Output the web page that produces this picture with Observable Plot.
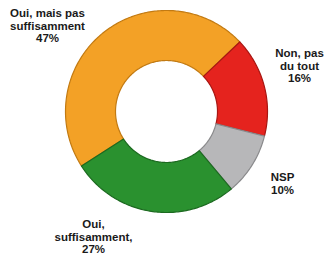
<!DOCTYPE html>
<html><head><meta charset="utf-8">
<script src="https://cdn.jsdelivr.net/npm/d3@7"></script>
<script src="https://cdn.jsdelivr.net/npm/@observablehq/plot@0.6"></script>
<style>body{margin:0;background:#fff}</style>
</head><body><div id="chart"></div>
<script>
const categories = ["Oui, mais pas suffisamment", "Non, pas du tout", "NSP", "Oui, suffisamment"];
const labels = ["Oui, mais pas\nsuffisamment\n47%", "Non, pas\ndu tout\n16%", "NSP\n10%", "Oui,\nsuffisamment,\n27%"];
const values = [47, 16, 10, 27];

// styles & layout (kept separate from data)
const fills = ["#F3A126", "#E5231E", "#B7B7B9", "#2A912F"];
const edges = ["#C27A12", "#A81612", "#8A8A8C", "#1C6A20"];
const labelPos = [[-119, -86], [133, -46], [116, 72], [-73, 125]];
const W = 324, H = 256, cx = 166, cy = 111, R = 101, r0 = 51;
const start = -122.7 * Math.PI / 180;

const arcs = d3.pie().sort(null).startAngle(start).endAngle(start + 2 * Math.PI)(values);
const pts = [];
arcs.forEach((a, i) => {
  const n = Math.max(8, Math.ceil((a.endAngle - a.startAngle) * 60));
  const ring = [];
  for (let k = 0; k <= n; k++) { const t = a.startAngle + (a.endAngle - a.startAngle) * k / n; ring.push([R * Math.sin(t), -R * Math.cos(t)]); }
  for (let k = n; k >= 0; k--) { const t = a.startAngle + (a.endAngle - a.startAngle) * k / n; ring.push([r0 * Math.sin(t), -r0 * Math.cos(t)]); }
  ring.push(ring[0]);
  ring.forEach(([x, y]) => pts.push({cat: categories[i], x, y, fill: fills[i], stroke: edges[i]}));
});
const labelData = labels.map((t, i) => ({text: t, x: labelPos[i][0], y: labelPos[i][1]}));

const chart = Plot.plot({
  width: W, height: H, margin: 0,
  x: {domain: [-cx, W - cx], range: [0, W], axis: null},
  y: {domain: [-cy, H - cy], range: [0, H], axis: null},
  color: {type: "identity"},
  style: {background: "#fff"},
  marks: [
    Plot.line(pts, {x: "x", y: "y", z: "cat", fill: "fill", stroke: "stroke", strokeWidth: 1.2, curve: "linear"}),
    Plot.text(labelData, {x: "x", y: "y", text: "text", fontSize: 11.5, fontWeight: "bold", fill: "#1a1a1a", lineHeight: 1.1, fontFamily: "Liberation Sans, Arial, sans-serif"})
  ]
});
document.getElementById("chart").appendChild(chart);
</script>
</body></html>
